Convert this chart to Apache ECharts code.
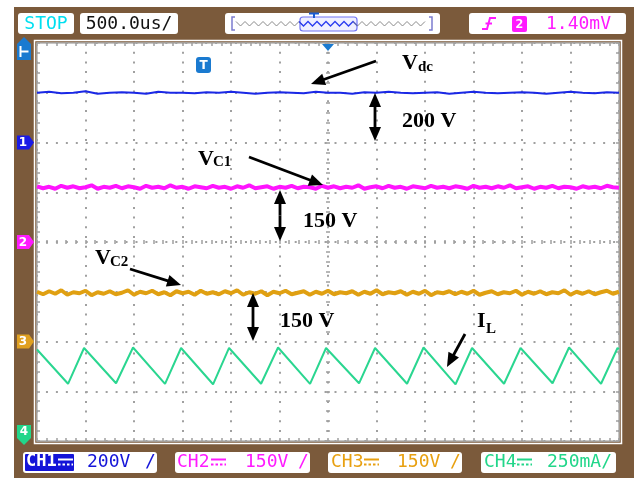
<!DOCTYPE html>
<html>
<head>
<meta charset="utf-8">
<script src="https://cdn.jsdelivr.net/npm/echarts@6/dist/echarts.min.js"></script>
<style>
  html, body { margin: 0; padding: 0; background: #fff; }
  #wrap { position: relative; width: 634px; height: 478px; background: #fff; overflow: hidden; }
  #bezel { position: absolute; left: 14px; top: 7px; right: 0; bottom: 0; background: #7b5a3b; }
  #c { position: absolute; left: 0; top: 0; width: 634px; height: 478px; }
</style>
</head>
<body>
<div id="wrap"><div id="bezel"></div><div id="c"></div></div>
<script>
// Screen is 12 horizontal x 8 vertical divisions; traces are in divisions from screen centre.
const span = 12;

// CH1 (Vdc) trace level
const vdcLevels = [3.00,3.02,2.99,3.00,3.03,2.98,3.00,3.01,3.00,2.98,3.02,3.00,3.00,2.99,3.01,3.00,3.02,3.00,2.98,3.00,3.01,3.00,2.99,3.02,3.00,3.00,2.98,3.01,3.00,3.02,3.00,2.99,3.00,3.01,2.98,3.00,3.02,3.00,2.99,3.00,3.01,3.00,2.98,3.00,3.02,3.00,2.99,3.01,3.00];

// CH2 (Vc1) trace level
const vc1Levels = [1.12,1.08,1.11,1.07,1.13,1.09,1.12,1.08,1.10,1.14,1.07,1.11,1.09,1.13,1.08,1.12,1.10,1.07,1.13,1.09,1.11,1.08,1.14,1.09,1.11,1.07,1.12,1.10,1.08,1.13,1.09,1.11,1.07,1.12,1.09,1.14,1.08,1.10,1.12,1.07,1.11,1.09,1.13,1.08,1.11,1.10,1.07,1.13,1.09,1.12,1.08,1.11,1.09,1.14,1.07,1.10,1.12,1.08,1.13,1.09,1.11,1.07,1.12,1.10,1.08,1.13,1.09,1.11,1.08,1.12,1.10,1.07,1.13,1.09,1.11,1.08,1.12,1.09,1.14,1.08,1.10,1.12,1.07,1.11,1.09,1.13,1.08,1.11,1.10,1.07,1.12,1.09,1.11,1.08,1.13,1.10,1.09];

// CH3 (Vc2) trace level
const vc2Levels = [-1.00,-1.05,-0.99,-1.04,-0.97,-1.06,-1.01,-1.03,-0.98,-1.07,-1.01,-1.04,-0.99,-1.05,-1.02,-0.97,-1.06,-1.00,-1.03,-0.98,-1.05,-1.01,-1.07,-0.99,-1.03,-1.00,-1.06,-0.98,-1.04,-1.01,-1.05,-0.99,-1.03,-0.97,-1.06,-1.01,-1.04,-0.99,-1.07,-1.00,-1.03,-0.98,-1.05,-1.02,-0.99,-1.06,-1.00,-1.04,-0.98,-1.05,-1.01,-1.03,-0.99,-1.06,-1.00,-1.04,-0.97,-1.05,-1.01,-1.03,-0.99,-1.06,-1.00,-1.04,-0.98,-1.07,-1.01,-1.03,-0.99,-1.05,-1.00,-1.04,-0.98,-1.06,-1.02,-0.99,-1.05,-1.01,-1.03,-0.98,-1.06,-1.00,-1.04,-0.99,-1.05,-1.01,-1.03,-0.97,-1.06,-1.00,-1.04,-0.99,-1.05,-1.01,-0.98,-1.04,-1.00];

// CH4 (IL) triangular ripple: turning points (time in div, level in div)
const ilTimes  = [0, 0.64, 0.97, 1.63, 1.98, 2.64, 2.97, 3.63, 3.96, 4.62, 4.97, 5.63, 5.96, 6.64, 6.97, 7.63, 7.97, 8.63, 8.97, 9.63, 9.97, 10.63, 10.97, 11.63, 11.97, 12];
const ilLevels = [-2.16, -2.85, -2.13, -2.84, -2.12, -2.85, -2.13, -2.86, -2.13, -2.85, -2.12, -2.85, -2.13, -2.84, -2.13, -2.85, -2.12, -2.86, -2.13, -2.85, -2.13, -2.84, -2.12, -2.85, -2.13, -2.15];

// channel ground markers (div)
const channelMarks = [
  { label: '1', level: 2, color: '#1a1ae6' },
  { label: '2', level: 0, color: '#ff1aff' },
  { label: '3', level: -2, color: '#e0a020' }
];

function trace(levels) {
  const n = levels.length;
  return levels.map((v, i) => [i * span / (n - 1), v]);
}

const GL = 37, GT = 43, GW = 582, GH = 398;
const dotColor = '#a0a0a0';

function edgeX(pos, inside, offset, split) {
  return {
    type: 'value', min: 0, max: 12, interval: 1, position: pos, offset: offset || 0,
    axisLine: { show: false, onZero: false },
    axisTick: { show: true, inside: inside, length: 3, lineStyle: { color: dotColor, width: 1.5 } },
    minorTick: { show: true, splitNumber: 5, length: 3, lineStyle: { color: dotColor, width: 1.5 } },
    axisLabel: { show: false },
    splitLine: split ? { show: true, lineStyle: { color: dotColor, width: 2, type: [2, 7.7], dashOffset: 1 } } : { show: false }
  };
}
function edgeY(pos, inside, offset, split) {
  return {
    type: 'value', min: -4, max: 4, interval: 1, position: pos, offset: offset || 0,
    axisLine: { show: false, onZero: false },
    axisTick: { show: true, inside: inside, length: 3, lineStyle: { color: dotColor, width: 1.5 } },
    minorTick: { show: true, splitNumber: 5, length: 3, lineStyle: { color: dotColor, width: 1.5 } },
    axisLabel: { show: false },
    splitLine: split ? { show: true, lineStyle: { color: dotColor, width: 2, type: [2, 7.95], dashOffset: 1 } } : { show: false }
  };
}

// ---------- overlay graphics ----------
const G = [];
function rect(x, y, w, h, fill, stroke, r, lw) {
  G.push({ type: 'rect', z: 100, shape: { x, y, width: w, height: h, r: r || 0 },
    style: { fill: fill, stroke: stroke || null, lineWidth: stroke ? (lw || 1) : 0 } });
}
function txt(x, y, text, font, color, align) {
  G.push({ type: 'text', z: 102, x: x, y: y,
    style: { text: text, font: font, fill: color, align: align || 'left', verticalAlign: 'middle' } });
}
function poly(points, fill) {
  G.push({ type: 'polygon', z: 101, shape: { points: points }, style: { fill: fill } });
}
function pline(points, stroke, w, dash) {
  G.push({ type: 'polyline', z: 101, shape: { points: points },
    style: { stroke: stroke, lineWidth: w, fill: null, lineDash: dash || null } });
}
function arrow(x1, y1, x2, y2) {
  const dx = x2 - x1, dy = y2 - y1, L = Math.hypot(dx, dy), ux = dx / L, uy = dy / L;
  const hl = 14, hw = 6;
  const bx = x2 - ux * hl, by = y2 - uy * hl;
  pline([[x1, y1], [bx + ux * 2, by + uy * 2]], '#000', 2.8);
  poly([[x2, y2], [bx - uy * hw, by + ux * hw], [bx + uy * hw, by - ux * hw]], '#000');
}
function dblArrow(x, y1, y2) {
  const m = (y1 + y2) / 2;
  arrow(x, m, x, y1);
  arrow(x, m, x, y2);
}
function dcSymbol(x, y, color) {
  pline([[x, y - 2.5], [x + 15, y - 2.5]], color, 2);
  pline([[x, y + 2.5], [x + 15, y + 2.5]], color, 2, [2.5, 2]);
}
const py = v => GT + (4 - v) / 8 * GH;

const mono = '18px "DejaVu Sans Mono"';
const serifB = s => 'bold ' + s + 'px "Liberation Serif"';

// white outline round the graticule
rect(GL - 2.5, GT - 2.5, GW + 5, GH + 5, null, '#ffffff', 0, 1.5);

// status bar
rect(18, 13, 56, 21, '#fff', null, 3);
txt(46, 24, 'STOP', mono, '#00dff0', 'center');
rect(80, 13, 98, 21, '#fff', null, 3);
txt(129, 24, '500.0us/', mono, '#111', 'center');

// horizontal position bar
rect(225, 13, 215, 21, '#fff', null, 3);
(function () {
  const outL = [], inn = [], outR = [];
  let up = true;
  for (let x = 236; x <= 428; x += 4.5) {
    const p = [x, up ? 21.5 : 26];
    if (x < 301) outL.push(p); else if (x <= 356) inn.push(p); else outR.push(p);
    up = !up;
  }
  pline(outL.concat([inn[0]]), '#8a8a8a', 1);
  pline([outL[outL.length - 1]].concat(inn, [outR[0]]), '#2a3cf0', 1.3);
  pline([inn[inn.length - 1]].concat(outR), '#8a8a8a', 1);
})();
rect(300, 17, 57, 14, 'rgba(190,190,255,0.25)', '#6f73f5', 3, 1.2);
pline([[235, 17], [232, 17], [232, 30], [235, 30]], '#7c7cd0', 1.5);
pline([[429, 17], [432, 17], [432, 30], [429, 30]], '#7c7cd0', 1.5);
pline([[309, 13.5], [319, 13.5]], '#1a5ad0', 2);
pline([[314, 13.5], [314, 18]], '#1a5ad0', 2);

// trigger status
rect(469, 13, 157, 21, '#fff', null, 3);
pline([[482, 29], [487, 29], [490, 18], [496, 18]], '#ff1aff', 2);
pline([[485.5, 23.5], [492, 23.5]], '#ff1aff', 2);
rect(512, 16, 15, 16, '#ff1aff', null, 2);
txt(519.5, 24.5, '2', 'bold 13px "DejaVu Sans Mono"', '#fff', 'center');
txt(546, 24, '1.40mV', mono, '#ff1aff', 'left');

// channel scale boxes
rect(23, 452, 134, 21, '#fff', null, 3);
rect(25, 454, 49, 17, '#1414d8', null, 1);
txt(26, 462, 'CH1', 'bold 17px "DejaVu Sans Mono"', '#fff', 'left');
dcSymbol(58, 462, '#fff');
txt(87, 462, '200V', mono, '#1414d8', 'left');
txt(145, 462, '/', mono, '#1414d8', 'left');

rect(175, 452, 135, 21, '#fff', null, 3);
txt(177, 462, 'CH2', mono, '#ff1aff', 'left');
dcSymbol(211, 462, '#ff1aff');
txt(245, 462, '150V', mono, '#ff1aff', 'left');
txt(298, 462, '/', mono, '#ff1aff', 'left');

rect(328, 452, 134, 21, '#fff', null, 3);
txt(331, 462, 'CH3', mono, '#e8a010', 'left');
dcSymbol(364, 462, '#e8a010');
txt(397, 462, '150V', mono, '#e8a010', 'left');
txt(450, 462, '/', mono, '#e8a010', 'left');

rect(481, 452, 135, 21, '#fff', null, 3);
txt(484, 462, 'CH4', mono, '#22d68a', 'left');
dcSymbol(517, 462, '#22d68a');
txt(547, 462, '250mA/', mono, '#22d68a', 'left');

// left-hand markers
poly([[17, 44], [24, 37], [31, 44], [31, 60], [17, 60]], '#1a7ad0');
pline([[20.5, 46], [20.5, 57]], '#fff', 2);
pline([[20.5, 51.5], [28.5, 51.5]], '#fff', 2);
channelMarks.forEach(m => {
  const y = py(m.level);
  poly([[17, y - 7], [29, y - 7], [34, y], [29, y + 7], [17, y + 7]], m.color);
  txt(23, y + 0.5, m.label, 'bold 12px "DejaVu Sans"', '#fff', 'center');
});
poly([[17, 425], [31, 425], [31, 438], [24, 445], [17, 438]], '#22d68a');
txt(24, 432, '4', 'bold 12px "DejaVu Sans"', '#fff', 'center');

// trigger position markers
poly([[322, 44], [334, 44], [328, 51]], '#1a7ad0');
rect(196, 57, 15, 16, '#1a7ad0', null, 3);
txt(203.5, 65.5, 'T', 'bold 12px "DejaVu Sans"', '#fff', 'center');

// annotations
txt(402, 63.5, 'V', serifB(22), '#000');
txt(418, 67.5, 'dc', serifB(15), '#000');
arrow(376, 61, 311, 84);
dblArrow(375, 93, 141);
txt(402, 121.5, '200 V', serifB(22), '#000');

txt(198, 159, 'V', serifB(22), '#000');
txt(213, 162.5, 'C1', serifB(15), '#000');
arrow(249, 157, 323, 185);
dblArrow(280, 190, 241);
txt(303, 221.5, '150 V', serifB(22), '#000');

txt(95, 258.5, 'V', serifB(22), '#000');
txt(110, 262, 'C2', serifB(15), '#000');
arrow(130, 269, 181, 285);
dblArrow(253, 293, 341);
txt(280, 321.5, '150 V', serifB(22), '#000');

txt(477, 321.5, 'I', serifB(22), '#000');
txt(486, 329, 'L', serifB(15), '#000');
arrow(465, 334, 447, 367);

const chart = echarts.init(document.getElementById('c'), null, { renderer: 'canvas' });
chart.setOption({
  animation: false,
  backgroundColor: 'transparent',
  grid: { left: GL, top: GT, width: GW, height: GH, show: true, backgroundColor: '#ffffff', borderColor: '#b4b4b4', borderWidth: 1.5 },
  xAxis: [
    edgeX('bottom', true, 0, true),
    edgeX('top', true, 0, false),
    Object.assign(edgeX('bottom', true, -GH / 2, false), { axisTick: { show: true, inside: true, length: 2, lineStyle: { color: dotColor, width: 1.5 } }, minorTick: { show: true, splitNumber: 5, length: 2, lineStyle: { color: dotColor, width: 1.5 } } }),
    Object.assign(edgeX('bottom', false, -GH / 2, false), { axisTick: { show: true, inside: false, length: 2, lineStyle: { color: dotColor, width: 1.5 } }, minorTick: { show: true, splitNumber: 5, length: 2, lineStyle: { color: dotColor, width: 1.5 } } })
  ],
  yAxis: [
    edgeY('left', true, 0, true),
    edgeY('right', true, 0, false),
    Object.assign(edgeY('left', true, -GW / 2, false), { axisTick: { show: true, inside: true, length: 2, lineStyle: { color: dotColor, width: 1.5 } }, minorTick: { show: true, splitNumber: 5, length: 2, lineStyle: { color: dotColor, width: 1.5 } } }),
    Object.assign(edgeY('left', false, -GW / 2, false), { axisTick: { show: true, inside: false, length: 2, lineStyle: { color: dotColor, width: 1.5 } }, minorTick: { show: true, splitNumber: 5, length: 2, lineStyle: { color: dotColor, width: 1.5 } } })
  ],
  series: [
    { name: 'Vdc', type: 'line', data: trace(vdcLevels), symbol: 'none', z: 5,
      lineStyle: { color: '#1a28e6', width: 2 } },
    { name: 'Vc1', type: 'line', data: trace(vc1Levels), symbol: 'none', z: 5,
      lineStyle: { color: '#ff14ff', width: 4 } },
    { name: 'Vc2', type: 'line', data: trace(vc2Levels), symbol: 'none', z: 5,
      lineStyle: { color: '#e0a012', width: 4 } },
    { name: 'IL', type: 'line', data: ilTimes.map((t, i) => [t, ilLevels[i]]), symbol: 'none', z: 5,
      lineStyle: { color: '#2ad690', width: 2 } }
  ],
  graphic: { elements: G }
});
</script>
</body>
</html>
